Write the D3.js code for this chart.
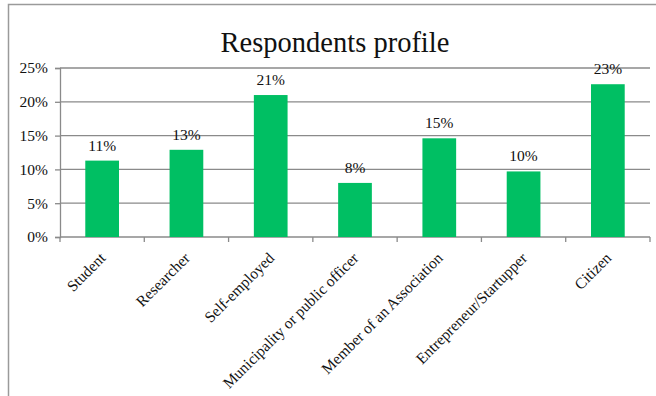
<!DOCTYPE html>
<html>
<head>
<meta charset="utf-8">
<script src="https://cdn.jsdelivr.net/npm/d3@7"></script>
<style>
  html, body { margin: 0; padding: 0; background: #fff; }
  svg { display: block; }
</style>
</head>
<body>
<svg id="chart" width="656" height="396"></svg>
<script>
// Respondents profile — share of respondents by category
const categories = [
  "Student",
  "Researcher",
  "Self-employed",
  "Municipality or public officer",
  "Member of an Association",
  "Entrepreneur/Startupper",
  "Citizen"
];
const shares = [0.113, 0.129, 0.210, 0.080, 0.146, 0.097, 0.226];
const yTicks = [0, 0.05, 0.10, 0.15, 0.20, 0.25];
const chartTitle = "Respondents profile";

const FONT = "Liberation Serif";

const svg = d3.select("#chart");
const W = 656, H = 396;
const margin = { left: 60, right: 6, top: 68, bottom: 159 };

// outer frame (runs off the right and bottom edges)
svg.append("rect")
  .attr("x", 8.5).attr("y", 4.5)
  .attr("width", 700).attr("height", 450)
  .attr("fill", "#fff")
  .attr("stroke", "#9a9a9a").attr("stroke-width", 1.5);

const x = d3.scaleBand()
  .domain(categories)
  .range([margin.left, W - margin.right])
  .paddingInner(0.6).paddingOuter(0.3);

const y = d3.scaleLinear()
  .domain([0, 0.25])
  .range([H - margin.bottom, margin.top]);

const pct = d3.format(".0%");

// horizontal gridlines
svg.append("g")
  .selectAll("line")
  .data(yTicks.slice(1))
  .join("line")
  .attr("x1", margin.left).attr("x2", W - margin.right)
  .attr("y1", d => y(d)).attr("y2", d => y(d))
  .attr("stroke", "#8a8a8a").attr("stroke-width", 1.3);

// y axis
const yAxis = svg.append("g")
  .attr("transform", `translate(${margin.left},0)`)
  .call(d3.axisLeft(y).tickValues(yTicks).tickFormat(pct).tickSize(5).tickPadding(7));
yAxis.attr("font-family", null).attr("font-size", null);
yAxis.select(".domain").attr("stroke", "#8a8a8a").attr("stroke-width", 1.3);
yAxis.selectAll(".tick line").attr("stroke", "#8a8a8a").attr("stroke-width", 1.3);
yAxis.selectAll("text")
  .style("font-family", FONT).style("font-size", "15.5px").attr("fill", "#111");

// x axis: ticks at category boundaries
const bounds = d3.range(categories.length + 1).map(i => margin.left + i * (W - margin.left - margin.right) / categories.length);
const xg = svg.append("g");
xg.append("line")
  .attr("x1", margin.left).attr("x2", W - margin.right)
  .attr("y1", y(0)).attr("y2", y(0))
  .attr("stroke", "#8a8a8a").attr("stroke-width", 1.3);
xg.selectAll("line.tk")
  .data(bounds)
  .join("line").attr("class", "tk")
  .attr("x1", d => d).attr("x2", d => d)
  .attr("y1", y(0)).attr("y2", y(0) + 5)
  .attr("stroke", "#8a8a8a").attr("stroke-width", 1.3);

// bars
svg.append("g")
  .selectAll("rect")
  .data(categories)
  .join("rect")
  .attr("x", d => x(d))
  .attr("y", (d, i) => y(shares[i]))
  .attr("width", x.bandwidth())
  .attr("height", (d, i) => y(0) - y(shares[i]))
  .attr("fill", "#00bf63");

// value labels
svg.append("g")
  .selectAll("text")
  .data(categories)
  .join("text")
  .attr("x", d => x(d) + x.bandwidth() / 2)
  .attr("y", (d, i) => y(shares[i]) - 10)
  .attr("text-anchor", "middle")
  .style("font-family", FONT).style("font-size", "15.5px").attr("fill", "#111")
  .text((d, i) => pct(shares[i]));

// rotated category labels
svg.append("g")
  .selectAll("text")
  .data(categories)
  .join("text")
  .attr("text-anchor", "end")
  .attr("transform", d => `translate(${x(d) + x.bandwidth() / 2 + 4.5},${y(0) + 22}) rotate(-45)`)
  .style("font-family", FONT).style("font-size", "15.5px").attr("fill", "#111")
  .text(d => d);

// title
svg.append("text")
  .attr("x", 335).attr("y", 52)
  .attr("text-anchor", "middle")
  .style("font-family", FONT).style("font-size", "28.5px").attr("fill", "#111")
  .text(chartTitle);
</script>
</body>
</html>
